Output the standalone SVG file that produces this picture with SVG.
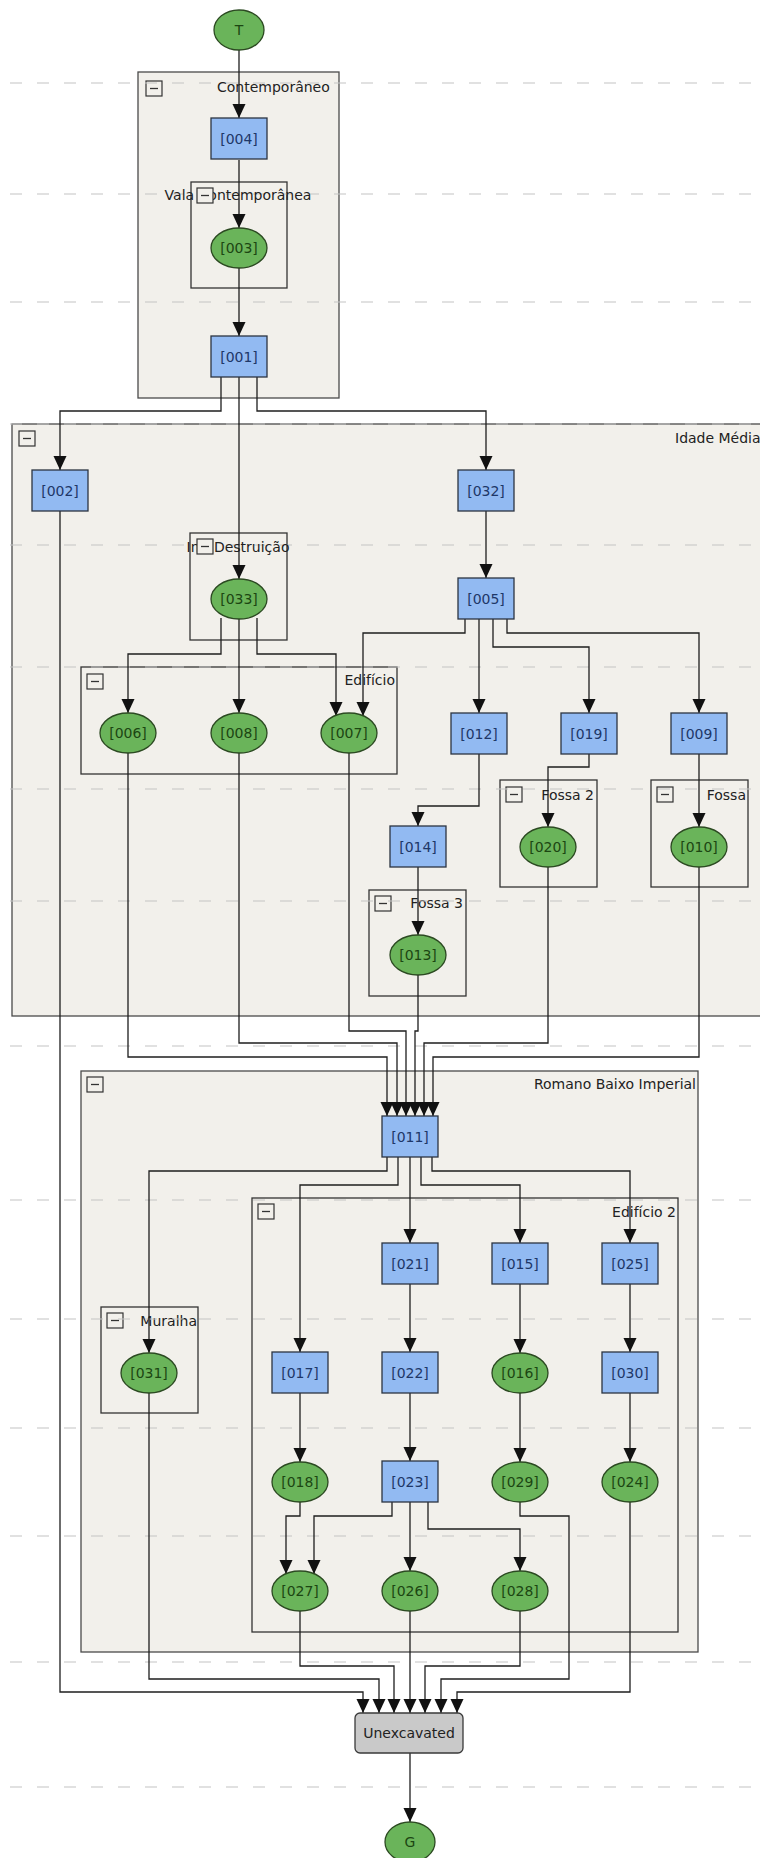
<svg xmlns="http://www.w3.org/2000/svg" width="760" height="1858" viewBox="0 0 760 1858">
<style>
text{font-family:"DejaVu Sans","Liberation Sans",sans-serif;font-size:14px}
.box{fill:#f2f0eb;stroke:#4a4a4a;stroke-width:1.3}
.ibox{fill:#f2f0eb;stroke:#333;stroke-width:1.3}
.lbl{fill:#222}
.dash{stroke:#c4c4c4;stroke-width:1.2;stroke-dasharray:12 15;fill:none}
.rn{fill:#92baf2;stroke:#2b3441;stroke-width:1.3}
.rt{fill:#1e3768;text-anchor:middle}
.en{fill:#6ab45a;stroke:#2c4a22;stroke-width:1.3}
.et{fill:#1c4612;text-anchor:middle}
.ed{fill:none;stroke:#1e1e1e;stroke-width:1.3}
.mb{fill:#f2f0eb;stroke:#333;stroke-width:1.2}
</style>
<defs>
<marker id="ah" viewBox="0 -7 14 14" refX="14" refY="0" markerWidth="14" markerHeight="14" markerUnits="userSpaceOnUse" orient="auto">
<path d="M0,-6.5 L14,0 L0,6.5 z" fill="#111"/>
</marker>
<g id="minus"><rect class="mb" x="0" y="0" width="16" height="15"/><line x1="4" y1="7.5" x2="12" y2="7.5" stroke="#333" stroke-width="1.3"/></g>
</defs>
<rect width="760" height="1858" fill="#ffffff"/>

<g id="groups">
<g id="grp-contemporaneo"><rect class="box" x="138" y="72" width="201" height="326"/><text class="lbl" x="217" y="92">Contemporâneo</text><use href="#minus" x="146" y="81"/></g>
<g id="grp-vala"><rect class="ibox" x="191" y="182" width="96" height="106"/></g>
<g id="grp-idade"><rect class="box" x="12" y="424" width="770" height="592"/><text class="lbl" x="675" y="443">Idade Média</text><use href="#minus" x="19" y="431"/></g>
<g id="grp-int"><rect class="ibox" x="190" y="533" width="97" height="107"/></g>
<g id="grp-edificio"><rect class="ibox" x="81" y="667" width="316" height="107"/><text class="lbl" x="395" y="685" text-anchor="end">Edifício</text><use href="#minus" x="87" y="674"/></g>
<g id="grp-fossa2"><rect class="ibox" x="500" y="780" width="97" height="107"/><text class="lbl" x="594" y="800" text-anchor="end">Fossa 2</text><use href="#minus" x="506" y="787"/></g>
<g id="grp-fossa"><rect class="ibox" x="651" y="780" width="97" height="107"/><text class="lbl" x="746" y="800" text-anchor="end">Fossa</text><use href="#minus" x="657" y="787"/></g>
<g id="grp-fossa3"><rect class="ibox" x="369" y="890" width="97" height="106"/><text class="lbl" x="463" y="908" text-anchor="end">Fossa 3</text><use href="#minus" x="375" y="896"/></g>
<g id="grp-romano"><rect class="box" x="81" y="1071" width="617" height="581"/><text class="lbl" x="696" y="1089" text-anchor="end">Romano Baixo Imperial</text><use href="#minus" x="87" y="1077"/></g>
<g id="grp-edificio2"><rect class="ibox" x="252" y="1198" width="426" height="434"/><text class="lbl" x="676" y="1217" text-anchor="end">Edifício 2</text><use href="#minus" x="258" y="1204"/></g>
<g id="grp-muralha"><rect class="ibox" x="101" y="1307" width="97" height="106"/><text class="lbl" x="197" y="1326" text-anchor="end">Muralha</text><use href="#minus" x="107" y="1313"/></g>
</g>

<g id="phases">
<line class="dash" x1="10" y1="83" x2="760" y2="83"/>
<line class="dash" x1="10" y1="194" x2="760" y2="194"/>
<line class="dash" x1="10" y1="302" x2="760" y2="302"/>
<line class="dash" x1="10" y1="424" x2="760" y2="424"/>
<line class="dash" x1="10" y1="545" x2="760" y2="545"/>
<line class="dash" x1="10" y1="667" x2="760" y2="667"/>
<line class="dash" x1="10" y1="789" x2="760" y2="789"/>
<line class="dash" x1="10" y1="901" x2="760" y2="901"/>
<line class="dash" x1="10" y1="1046" x2="760" y2="1046"/>
<line class="dash" x1="10" y1="1200" x2="760" y2="1200"/>
<line class="dash" x1="10" y1="1319" x2="760" y2="1319"/>
<line class="dash" x1="10" y1="1428" x2="760" y2="1428"/>
<line class="dash" x1="10" y1="1536" x2="760" y2="1536"/>
<line class="dash" x1="10" y1="1662" x2="760" y2="1662"/>
<line class="dash" x1="10" y1="1787" x2="760" y2="1787"/>
</g>

<g id="sublabels">
<text class="lbl" x="238" y="200" text-anchor="middle">Vala Contemporânea</text><use href="#minus" x="197" y="188"/>
<text class="lbl" x="238" y="552" text-anchor="middle">Int. Destruição</text><use href="#minus" x="197" y="539"/>
</g>

<g id="connectors" class="ed" marker-end="url(#ah)">
<path d="M239,50 V118"/>
<path d="M239,160 V228"/>
<path d="M239,268 V336"/>
<path d="M221,377 V411 H60 V470"/>
<path d="M239,377 V579"/>
<path d="M257,377 V411 H486 V470"/>
<path d="M486,511 V578"/>
<path d="M221,618 V654 H128 V713"/>
<path d="M239,619 V713"/>
<path d="M257,618 V654 H336 V716"/>
<path d="M465,619 V633 H363 V716"/>
<path d="M479,619 V713"/>
<path d="M493,619 V647 H589 V713"/>
<path d="M507,619 V633 H699 V713"/>
<path d="M479,754 V806 H418 V826"/>
<path d="M589,754 V767 H548 V827"/>
<path d="M699,754 V827"/>
<path d="M418,867 V935"/>
<path d="M128,753 V1057 H387 V1116"/>
<path d="M239,753 V1043 H397 V1116"/>
<path d="M349,753 V1031 H406 V1116"/>
<path d="M418,975 V1031 H415 V1116"/>
<path d="M548,867 V1043 H424 V1116"/>
<path d="M699,867 V1057 H433 V1116"/>
<path d="M387,1157 V1171 H149 V1353"/>
<path d="M398,1157 V1185 H300 V1352"/>
<path d="M410,1157 V1243"/>
<path d="M421,1157 V1185 H520 V1243"/>
<path d="M432,1157 V1171 H630 V1243"/>
<path d="M410,1284 V1352"/>
<path d="M520,1284 V1353"/>
<path d="M630,1284 V1352"/>
<path d="M300,1393 V1462"/>
<path d="M410,1393 V1461"/>
<path d="M520,1393 V1462"/>
<path d="M630,1393 V1462"/>
<path d="M300,1502 V1516 H286 V1574"/>
<path d="M392,1502 V1516 H314 V1574"/>
<path d="M410,1502 V1571"/>
<path d="M428,1502 V1529 H520 V1571"/>
<path d="M60,511 V1692 H363 V1713"/>
<path d="M149,1393 V1679 H379 V1713"/>
<path d="M300,1611 V1666 H394 V1713"/>
<path d="M410,1611 V1713"/>
<path d="M520,1611 V1666 H425 V1713"/>
<path d="M520,1502 V1516 H569 V1679 H441 V1713"/>
<path d="M630,1502 V1692 H457 V1713"/>
<path d="M410,1753 V1822"/>
</g>

<g id="nodes">
<g id="n-T"><ellipse class="en" cx="239" cy="30" rx="25" ry="20"/><text class="et" x="239" y="35">T</text></g>
<g id="n-004"><rect class="rn" x="211" y="118" width="56" height="41"/><text class="rt" x="239" y="144">[004]</text></g>
<g id="n-003"><ellipse class="en" cx="239" cy="248" rx="28" ry="20"/><text class="et" x="239" y="253">[003]</text></g>
<g id="n-001"><rect class="rn" x="211" y="336" width="56" height="41"/><text class="rt" x="239" y="362">[001]</text></g>
<g id="n-002"><rect class="rn" x="32" y="470" width="56" height="41"/><text class="rt" x="60" y="496">[002]</text></g>
<g id="n-032"><rect class="rn" x="458" y="470" width="56" height="41"/><text class="rt" x="486" y="496">[032]</text></g>
<g id="n-033"><ellipse class="en" cx="239" cy="599" rx="28" ry="20"/><text class="et" x="239" y="604">[033]</text></g>
<g id="n-005"><rect class="rn" x="458" y="578" width="56" height="41"/><text class="rt" x="486" y="604">[005]</text></g>
<g id="n-006"><ellipse class="en" cx="128" cy="733" rx="28" ry="20"/><text class="et" x="128" y="738">[006]</text></g>
<g id="n-008"><ellipse class="en" cx="239" cy="733" rx="28" ry="20"/><text class="et" x="239" y="738">[008]</text></g>
<g id="n-007"><ellipse class="en" cx="349" cy="733" rx="28" ry="20"/><text class="et" x="349" y="738">[007]</text></g>
<g id="n-012"><rect class="rn" x="451" y="713" width="56" height="41"/><text class="rt" x="479" y="739">[012]</text></g>
<g id="n-019"><rect class="rn" x="561" y="713" width="56" height="41"/><text class="rt" x="589" y="739">[019]</text></g>
<g id="n-009"><rect class="rn" x="671" y="713" width="56" height="41"/><text class="rt" x="699" y="739">[009]</text></g>
<g id="n-014"><rect class="rn" x="390" y="826" width="56" height="41"/><text class="rt" x="418" y="852">[014]</text></g>
<g id="n-020"><ellipse class="en" cx="548" cy="847" rx="28" ry="20"/><text class="et" x="548" y="852">[020]</text></g>
<g id="n-010"><ellipse class="en" cx="699" cy="847" rx="28" ry="20"/><text class="et" x="699" y="852">[010]</text></g>
<g id="n-013"><ellipse class="en" cx="418" cy="955" rx="28" ry="20"/><text class="et" x="418" y="960">[013]</text></g>
<g id="n-011"><rect class="rn" x="382" y="1116" width="56" height="41"/><text class="rt" x="410" y="1142">[011]</text></g>
<g id="n-021"><rect class="rn" x="382" y="1243" width="56" height="41"/><text class="rt" x="410" y="1269">[021]</text></g>
<g id="n-015"><rect class="rn" x="492" y="1243" width="56" height="41"/><text class="rt" x="520" y="1269">[015]</text></g>
<g id="n-025"><rect class="rn" x="602" y="1243" width="56" height="41"/><text class="rt" x="630" y="1269">[025]</text></g>
<g id="n-031"><ellipse class="en" cx="149" cy="1373" rx="28" ry="20"/><text class="et" x="149" y="1378">[031]</text></g>
<g id="n-017"><rect class="rn" x="272" y="1352" width="56" height="41"/><text class="rt" x="300" y="1378">[017]</text></g>
<g id="n-022"><rect class="rn" x="382" y="1352" width="56" height="41"/><text class="rt" x="410" y="1378">[022]</text></g>
<g id="n-016"><ellipse class="en" cx="520" cy="1373" rx="28" ry="20"/><text class="et" x="520" y="1378">[016]</text></g>
<g id="n-030"><rect class="rn" x="602" y="1352" width="56" height="41"/><text class="rt" x="630" y="1378">[030]</text></g>
<g id="n-018"><ellipse class="en" cx="300" cy="1482" rx="28" ry="20"/><text class="et" x="300" y="1487">[018]</text></g>
<g id="n-023"><rect class="rn" x="382" y="1461" width="56" height="41"/><text class="rt" x="410" y="1487">[023]</text></g>
<g id="n-029"><ellipse class="en" cx="520" cy="1482" rx="28" ry="20"/><text class="et" x="520" y="1487">[029]</text></g>
<g id="n-024"><ellipse class="en" cx="630" cy="1482" rx="28" ry="20"/><text class="et" x="630" y="1487">[024]</text></g>
<g id="n-027"><ellipse class="en" cx="300" cy="1591" rx="28" ry="20"/><text class="et" x="300" y="1596">[027]</text></g>
<g id="n-026"><ellipse class="en" cx="410" cy="1591" rx="28" ry="20"/><text class="et" x="410" y="1596">[026]</text></g>
<g id="n-028"><ellipse class="en" cx="520" cy="1591" rx="28" ry="20"/><text class="et" x="520" y="1596">[028]</text></g>
<g id="n-unexcavated"><rect x="355" y="1713" width="108" height="40" rx="5" ry="5" fill="#c9c9c9" stroke="#3a3a3a" stroke-width="1.3"/><text x="409" y="1738" text-anchor="middle" fill="#222">Unexcavated</text></g>
<g id="n-G"><ellipse class="en" cx="410" cy="1842" rx="25" ry="20"/><text class="et" x="410" y="1847">G</text></g>
</g>
</svg>
